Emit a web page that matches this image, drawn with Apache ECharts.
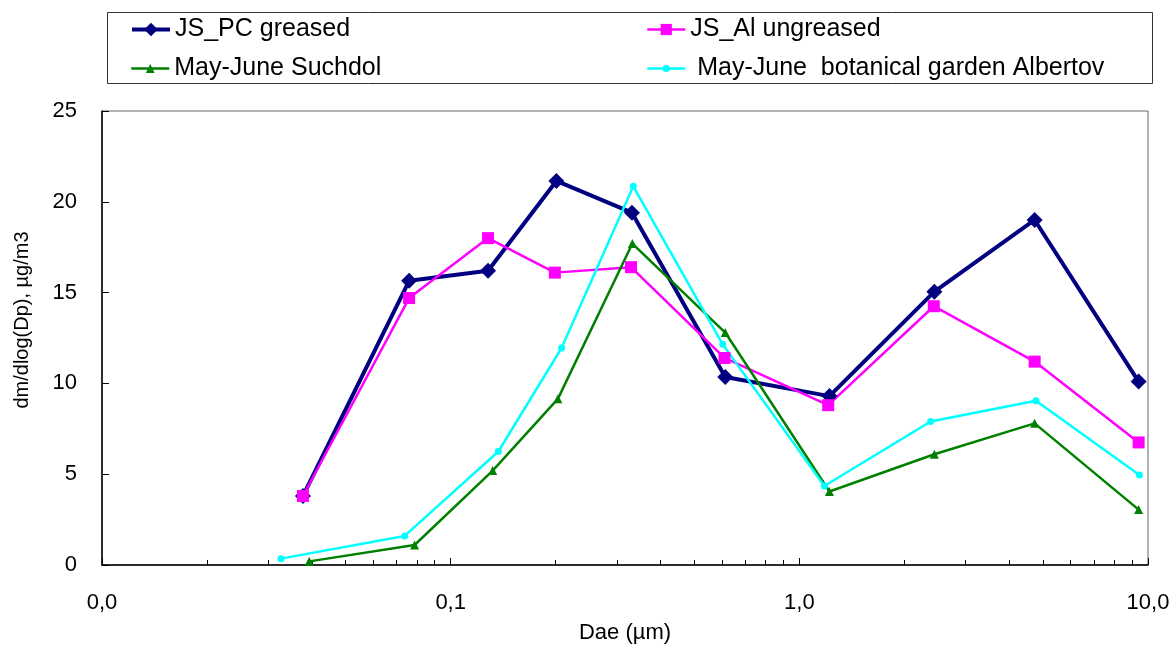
<!DOCTYPE html>
<html>
<head>
<meta charset="utf-8">
<script src="https://cdn.jsdelivr.net/npm/echarts@6/dist/echarts.min.js"></script>
<style>
html,body{margin:0;padding:0;background:#fff;}
#chart{width:1176px;height:649px;}
</style>
</head>
<body>
<div id="chart"></div>
<script>
const seriesNames = ['JS_PC greased', 'JS_Al ungreased', 'May-June Suchdol', ' May-June  botanical garden Albertov'];
const xPC = [0.0377, 0.0760, 0.128, 0.201, 0.331, 0.613, 1.22, 2.44, 4.73, 9.4];
const yPC = [3.8, 15.65, 16.2, 21.15, 19.4, 10.35, 9.3, 15.05, 19.0, 10.1];
const xAl = [0.0377, 0.0760, 0.128, 0.199, 0.329, 0.610, 1.21, 2.43, 4.73, 9.4];
const yAl = [3.8, 14.7, 18.0, 16.1, 16.4, 11.4, 8.8, 14.25, 11.2, 6.75];
const xSu = [0.0393, 0.0788, 0.132, 0.203, 0.332, 0.613, 1.22, 2.44, 4.73, 9.4];
const ySu = [0.2, 1.1, 5.2, 9.15, 17.7, 12.8, 4.05, 6.1, 7.8, 3.05];
const xAb = [0.0326, 0.0738, 0.137, 0.208, 0.334, 0.603, 1.18, 2.38, 4.77, 9.45];
const yAb = [0.35, 1.6, 6.25, 11.95, 20.85, 12.15, 4.35, 7.9, 9.05, 4.95];
const xTickLabels = ['0,0', '0,1', '1,0', '10,0'];
const yTickLabels = ['0', '5', '10', '15', '20', '25'];

const FONT = '"Liberation Sans", Arial, sans-serif';
const COLORS = ['#000080', '#FF00FF', '#008000', '#00FFFF'];
const pairs = (xs, ys) => xs.map((x, i) => [x, ys[i]]);

const legendText = {fontFamily: FONT, fontSize: 25, lineHeight: 25, color: '#000'};
function legendFor(idx, left, top, iconH, lineW) {
  return {
    data: [seriesNames[idx]],
    left: left, top: top, padding: 0,
    itemWidth: 38, itemHeight: iconH, itemGap: 0,
    lineStyle: {width: lineW},
    textStyle: legendText
  };
}

const chart = echarts.init(document.getElementById('chart'), null, {renderer: 'canvas'});
const option = {
  animation: false,
  backgroundColor: '#fff',
  textStyle: {fontFamily: FONT, color: '#000'},
  grid: {left: 102, right: 28, top: 111, bottom: 83, show: true, borderColor: '#666', borderWidth: 1, backgroundColor: 'transparent'},
  legend: [
    legendFor(0, 130, 17, 17, 4),
    legendFor(1, 646, 17, 14, 2.5),
    legendFor(2, 130, 56, 11, 2.5),
    legendFor(3, 646, 56, 9, 2.5)
  ],
  graphic: [{
    type: 'rect', left: 105, top: 10, silent: true, z: -1,
    shape: {width: 1045, height: 71},
    style: {fill: 'none', stroke: '#333', lineWidth: 1}
  }],
  xAxis: {
    type: 'log', logBase: 10, min: 0.01, max: 10,
    name: 'Dae (µm)', nameLocation: 'middle', nameGap: 57,
    nameTextStyle: {fontFamily: FONT, fontSize: 22, color: '#000'},
    axisLine: {lineStyle: {color: '#000', width: 1.5}},
    axisTick: {inside: true, length: 7, lineStyle: {color: '#000'}},
    minorTick: {show: true, splitNumber: 9, length: 5, lineStyle: {color: '#000'}},
    splitLine: {show: false},
    axisLabel: {
      fontFamily: FONT, fontSize: 22, color: '#000', margin: 27,
      formatter: (v, i) => xTickLabels[i]
    }
  },
  yAxis: {
    type: 'value', min: 0, max: 25, interval: 5,
    name: 'dm/dlog(Dp), µg/m3', nameLocation: 'middle', nameGap: 70,
    nameTextStyle: {fontFamily: FONT, fontSize: 20, color: '#000', padding: [0, 0, 0, 36]},
    axisLine: {show: true, lineStyle: {color: '#000', width: 1.5}},
    axisTick: {show: true, inside: true, length: 7, lineStyle: {color: '#000'}},
    splitLine: {show: false},
    axisLabel: {
      fontFamily: FONT, fontSize: 22, color: '#000', margin: 25,
      formatter: (v, i) => yTickLabels[i]
    }
  },
  series: [
    {
      name: seriesNames[0], type: 'line', data: pairs(xPC, yPC),
      symbol: 'diamond', symbolSize: 16,
      lineStyle: {color: COLORS[0], width: 4},
      itemStyle: {color: COLORS[0]}
    },
    {
      name: seriesNames[1], type: 'line', data: pairs(xAl, yAl),
      symbol: 'rect', symbolSize: 12,
      lineStyle: {color: COLORS[1], width: 2.5},
      itemStyle: {color: COLORS[1]}
    },
    {
      name: seriesNames[2], type: 'line', data: pairs(xSu, ySu),
      symbol: 'triangle', symbolSize: 9,
      lineStyle: {color: COLORS[2], width: 2.5},
      itemStyle: {color: COLORS[2]}
    },
    {
      name: seriesNames[3], type: 'line', data: pairs(xAb, yAb),
      symbol: 'circle', symbolSize: 7,
      lineStyle: {color: COLORS[3], width: 2.5},
      itemStyle: {color: COLORS[3]}
    }
  ]
};
chart.setOption(option);
</script>
</body>
</html>
